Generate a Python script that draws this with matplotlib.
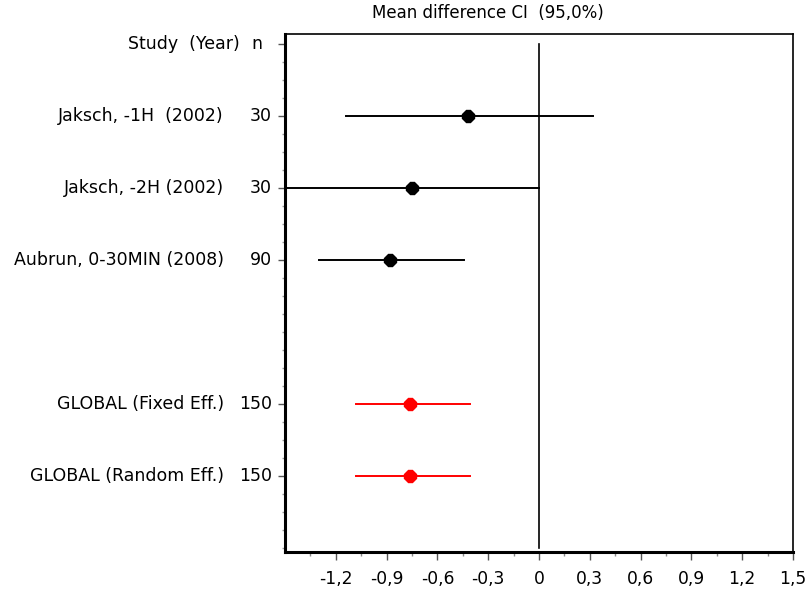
import matplotlib
matplotlib.use('Agg')
import matplotlib.pyplot as plt
import matplotlib.transforms as mtransforms
import numpy as np

studies = ['Jaksch, -1H  (2002)', 'Jaksch, -2H (2002)', 'Aubrun, 0-30MIN (2008)',
           'GLOBAL (Fixed Eff.)', 'GLOBAL (Random Eff.)']
n_values = ['30', '30', '90', '150', '150']
rows = [1, 2, 3, 5, 6]
mean_diff = [-0.42, -0.75, -0.88, -0.76, -0.76]
ci_low = [-1.14, -1.55, -1.30, -1.08, -1.08]
ci_high = [0.32, 0.0, -0.44, -0.41, -0.41]
colors = ['black', 'black', 'black', 'red', 'red']
xticks = [-1.2, -0.9, -0.6, -0.3, 0, 0.3, 0.6, 0.9, 1.2, 1.5]
xticklabels = ['-1,2', '-0,9', '-0,6', '-0,3', '0', '0,3', '0,6', '0,9', '1,2', '1,5']

plt.rcParams['font.family'] = ['DejaVu Sans']
fs = 12.5
fig = plt.figure(figsize=(8.1, 5.98), dpi=100)
ax = fig.add_axes([285 / 810, 1 - 552 / 598, 508 / 810, 518 / 598])

ax.plot([0, 0], [0, 7.0], color='black', lw=1.2, zorder=1)
for r, m, lo, hi, c in zip(rows, mean_diff, ci_low, ci_high, colors):
    ax.plot([lo, hi], [r, r], color=c, lw=1.4, zorder=2, clip_on=True)
    ax.plot(m, r, marker='8', color=c, ms=9, zorder=3)

ax.set_xlim(-1.5, 1.5)
ax.set_ylim(7.06, -0.14)
ax.set_xticks(xticks)
ax.set_xticklabels(xticklabels, fontsize=12.3)
ax.set_xticks(np.arange(-1.35, 1.5, 0.3), minor=True)
ax.tick_params(axis='x', which='major', length=6, width=1, color='#555555', pad=7)
ax.tick_params(axis='x', which='minor', length=3, width=1, color='#888888')

ax.set_yticks([0] + rows)
ax.set_yticklabels([])
ax.set_yticks(np.arange(0, 7.01, 0.25), minor=True)
ax.tick_params(axis='y', which='major', length=5, width=1, color='#555555')
ax.tick_params(axis='y', which='minor', length=2, width=1, color='#999999')

for side in ['left', 'bottom']:
    ax.spines[side].set_linewidth(2.2)
for side in ['top', 'right']:
    ax.spines[side].set_linewidth(1.2)

trans = mtransforms.blended_transform_factory(fig.transFigure, ax.transData)
ax.text(240 / 810, 0, 'Study  (Year)', transform=trans, ha='right', va='center', fontsize=fs)
ax.text(262 / 810, 0, 'n', transform=trans, ha='right', va='center', fontsize=fs)
for r, s, n in zip(rows, studies, n_values):
    ax.text(224 / 810, r, s, transform=trans, ha='right', va='center', fontsize=fs)
    ax.text(272 / 810, r, n, transform=trans, ha='right', va='center', fontsize=fs)

fig.text(488 / 810, 1 - 13 / 598, 'Mean difference CI  (95,0%)', ha='center', va='center', fontsize=12)

fig.savefig('out.png', dpi=100)
